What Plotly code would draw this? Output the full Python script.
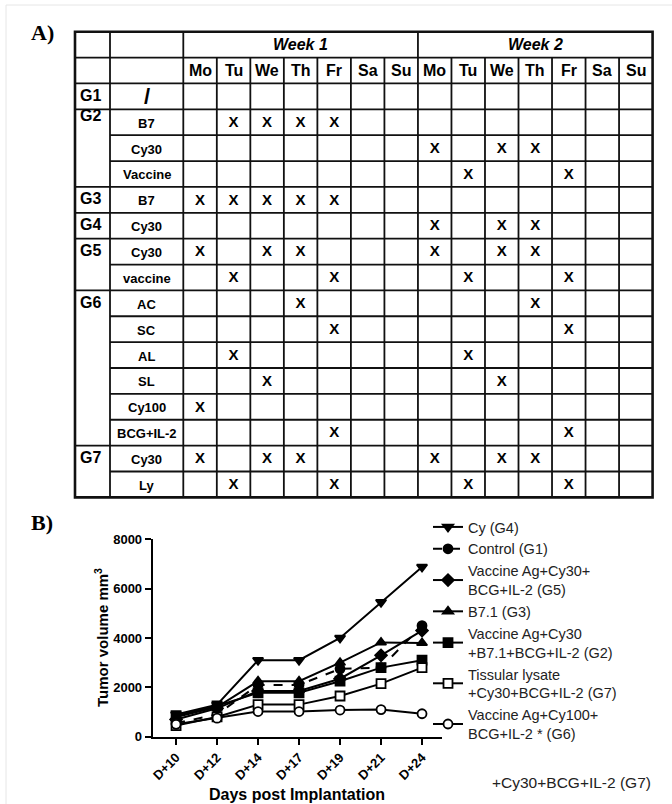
import plotly.graph_objects as go

# ---------------- DATA ----------------
days = ["D+10", "D+12", "D+14", "D+17", "D+19", "D+21", "D+24"]
cy_g4 = [900, 1300, 3100, 3100, 4000, 5450, 6880]
control_g1 = [550, 900, 2100, 2100, 2750, 2800, 4500]
vacc_cy30_g5 = [700, 1150, 1850, 1850, 2350, 3300, 4300]
b71_g3 = [800, 1200, 2250, 2250, 3000, 3820, 3800]
vacc_b71_g2 = [850, 1250, 1780, 1780, 2250, 2800, 3100]
lysate_g7 = [450, 800, 1300, 1300, 1650, 2150, 2800]
vacc_cy100_g6 = [500, 750, 1020, 1020, 1080, 1100, 930]

series_names = [
    "Cy (G4)",
    "Control (G1)",
    "Vaccine Ag+Cy30+<br>BCG+IL-2 (G5)",
    "B7.1 (G3)",
    "Vaccine Ag+Cy30<br>+B7.1+BCG+IL-2 (G2)",
    "Tissular lysate<br>+Cy30+BCG+IL-2 (G7)",
    "Vaccine Ag+Cy100+<br>BCG+IL-2 * (G6)",
]
series_values = [cy_g4, control_g1, vacc_cy30_g5, b71_g3, vacc_b71_g2, lysate_g7, vacc_cy100_g6]
y_ticks = [0, 2000, 4000, 6000, 8000]

week_labels = ["Week 1", "Week 2"]
day_labels = ["Mo", "Tu", "We", "Th", "Fr", "Sa", "Su", "Mo", "Tu", "We", "Th", "Fr", "Sa", "Su"]
row_groups = ["G1", "G2", "G2", "G2", "G3", "G4", "G5", "G5", "G6", "G6", "G6", "G6", "G6", "G6", "G7", "G7"]
row_labels = ["/", "B7", "Cy30", "Vaccine", "B7", "Cy30", "Cy30", "vaccine",
              "AC", "SC", "AL", "SL", "Cy100", "BCG+IL-2", "Cy30", "Ly"]
schedule = [
    "..............",
    ".XXXX.........",
    ".......X.XX...",
    "........X..X..",
    "XXXXX.........",
    ".......X.XX...",
    "X.XX...X.XX...",
    ".X..X...X..X..",
    "...X......X...",
    "....X......X..",
    ".X......X.....",
    "..X......X....",
    "X.............",
    "....X......X..",
    "X.XX...X.XX...",
    ".X..X...X..X..",
]

# ---------------- STYLE / LAYOUT ----------------
W, H = 672, 804
SANS = "Liberation Sans, Arial, sans-serif"
SERIF = "Liberation Serif, Times New Roman, serif"

styles = [
    ("triangle-down", "solid", "black"),
    ("circle", "dash", "black"),
    ("diamond", "solid", "black"),
    ("triangle-up", "solid", "black"),
    ("square", "solid", "black"),
    ("square", "solid", "white"),
    ("circle", "solid", "white"),
]

fig = go.Figure()

for name, vals, (sym, dash, fill) in zip(series_names, series_values, styles):
    fig.add_trace(go.Scatter(
        x=days, y=vals, mode="lines+markers", name=name,
        line=dict(color="black", width=2, dash=dash),
        marker=dict(symbol=sym, size=9, color=fill, line=dict(color="black", width=1.8)),
        cliponaxis=False, xaxis="x", yaxis="y",
    ))

# ---------------- TABLE (pixel-unit helper axes x2/y2) ----------------
TL, TT = 75.0, 31.7
GROUP_W, LABEL_W, DAY_W, ROW_H = 35.0, 73.3, 33.52, 25.87
n_rows = 2 + len(row_labels)
day_x0 = TL + GROUP_W + LABEL_W
TR = day_x0 + DAY_W * len(day_labels)
TB = TT + ROW_H * n_rows

def ry(i):
    return TT + ROW_H * i

shapes = []
LC = "#111111"

def hline(x0, x1, y, w=1.8):
    shapes.append(dict(type="line", xref="x2", yref="y2", x0=x0, x1=x1, y0=y, y1=y,
                       line=dict(color=LC, width=w)))

def vline(x, y0, y1, w=1.8):
    shapes.append(dict(type="line", xref="x2", yref="y2", x0=x, x1=x, y0=y0, y1=y1,
                       line=dict(color=LC, width=w)))

hline(TL, TR, ry(1))
hline(TL, TR, ry(2))
for r in range(1, len(row_labels)):
    new_group = row_groups[r] != row_groups[r - 1]
    hline(TL if new_group else TL + GROUP_W, TR, ry(2 + r))
vline(TL + GROUP_W, TT, TB)
vline(day_x0, TT, TB)
for d in range(1, len(day_labels)):
    vline(day_x0 + DAY_W * d, TT if d == 7 else ry(1), TB)
shapes.append(dict(type="rect", xref="x2", yref="y2", x0=TL, x1=TR, y0=TT, y1=TB,
                   line=dict(color=LC, width=2.6)))

shapes.append(dict(type="rect", xref="paper", yref="paper", x0=6 / W, x1=1.05, y0=-0.05, y1=1 - 5 / H,
                   line=dict(color="#e6e6e6", width=1)))

annotations = []

def ann(x, y, text, size, xanchor="center", bold=True, italic=False, family=SANS, ref="x2"):
    t = text
    if italic:
        t = "<i>" + t + "</i>"
    if bold:
        t = "<b>" + t + "</b>"
    annotations.append(dict(x=x, y=y, xref=ref, yref="y2" if ref == "x2" else "paper", text=t,
                            showarrow=False, xanchor=xanchor, yanchor="middle",
                            font=dict(size=size, family=family, color="black")))

for k, wl in enumerate(week_labels):
    ann(day_x0 + DAY_W * (7 * k + 3.5), ry(0.5), wl, 16, italic=True)
for d, dl in enumerate(day_labels):
    ann(day_x0 + DAY_W * (d + 0.5), ry(1.5), dl, 16)
prev = None
for r, g in enumerate(row_groups):
    if g != prev:
        span = row_groups.count(g)
        off = -7 if span >= 3 and g == "G2" else -1
        ann(TL + 3, ry(2 + r + 0.5) + off, g, 16, xanchor="left")
    prev = g
for r, lab in enumerate(row_labels):
    if lab == "/":
        ann(TL + GROUP_W + LABEL_W / 2, ry(2 + r + 0.5), "/", 22)
    else:
        ann(TL + GROUP_W + LABEL_W / 2, ry(2 + r + 0.5) + 1, lab, 13)

xs, ys = [], []
for r, s in enumerate(schedule):
    for d, ch in enumerate(s):
        if ch == "X":
            xs.append(day_x0 + DAY_W * (d + 0.5))
            ys.append(ry(2 + r + 0.5) + 1)
fig.add_trace(go.Scatter(x=xs, y=ys, mode="text", text=["X"] * len(xs), showlegend=False,
                         textfont=dict(size=15, family=SANS, color="black", weight="bold"),
                         hoverinfo="skip", xaxis="x2", yaxis="y2"))

annotations.append(dict(xref="paper", yref="paper", x=42 / W, y=1 - 32 / H, text="<b>A)</b>",
                        showarrow=False, xanchor="center", yanchor="middle",
                        font=dict(size=22, family=SERIF, color="black")))
annotations.append(dict(xref="paper", yref="paper", x=42 / W, y=1 - 522 / H, text="<b>B)</b>",
                        showarrow=False, xanchor="center", yanchor="middle",
                        font=dict(size=22, family=SERIF, color="black")))

# ---------------- CHART GEOMETRY ----------------
AX_L, AX_R = 152.7, 441.7
AX_B, AX_T = 736.7, 539.3

annotations.append(dict(xref="paper", yref="paper", x=101 / W, y=1 - (AX_B + AX_T) / 2 / H,
                        text="<b>Tumor volume mm<sup>3</sup></b>", textangle=-90, showarrow=False,
                        xanchor="center", yanchor="middle", font=dict(size=15, family=SANS, color="black")))
annotations.append(dict(xref="paper", yref="paper", x=(AX_L + AX_R) / 2 / W, y=1 - 794 / H,
                        text="<b>Days post Implantation</b>", showarrow=False,
                        xanchor="center", yanchor="middle", font=dict(size=16, family=SANS, color="black")))
annotations.append(dict(xref="paper", yref="paper", x=490 / W, y=1 - 782 / H,
                        text="+Cy30+BCG+IL-2 (G7)", showarrow=False,
                        xanchor="left", yanchor="middle", font=dict(size=15.5, family=SANS, color="#222")))

fig.update_layout(
    width=W, height=H, autosize=False,
    margin=dict(l=0, r=0, t=0, b=0),
    paper_bgcolor="white", plot_bgcolor="rgba(0,0,0,0)",
    font=dict(family=SANS, color="black"),
    shapes=shapes, annotations=annotations,
    showlegend=True,
    legend=dict(x=428 / W, y=1 - 511 / H, xanchor="left", yanchor="top",
                font=dict(size=14.5, family=SANS, color="#222"),
                bgcolor="rgba(0,0,0,0)", tracegroupgap=0, itemwidth=30),
    xaxis=dict(domain=[AX_L / W, AX_R / W], type="category", range=[-0.57, 6.48],
               showline=True, linecolor="black", linewidth=2, ticks="outside", ticklen=6,
               tickwidth=2, tickcolor="black", tickangle=-45, showgrid=False, zeroline=False,
               tickfont=dict(size=13, family=SANS, color="black", weight="bold"),
               anchor="y", automargin=False, fixedrange=True),
    yaxis=dict(domain=[1 - AX_B / H, 1 - AX_T / H], range=[0, 8000], tickvals=y_ticks,
               showline=True, linecolor="black", linewidth=2, ticks="outside", ticklen=6,
               tickwidth=2, tickcolor="black", showgrid=False, zeroline=False,
               tickfont=dict(size=13, family=SANS, color="black", weight="bold"),
               anchor="x", automargin=False, fixedrange=True),
    xaxis2=dict(domain=[0, 1], range=[0, W], visible=False, anchor="y2", fixedrange=True),
    yaxis2=dict(domain=[0, 1], range=[H, 0], visible=False, anchor="x2", fixedrange=True),
)

fig.write_html("out.html", config={"displayModeBar": False},
               post_script="document.body.style.margin='0';document.body.style.overflow='hidden';")
